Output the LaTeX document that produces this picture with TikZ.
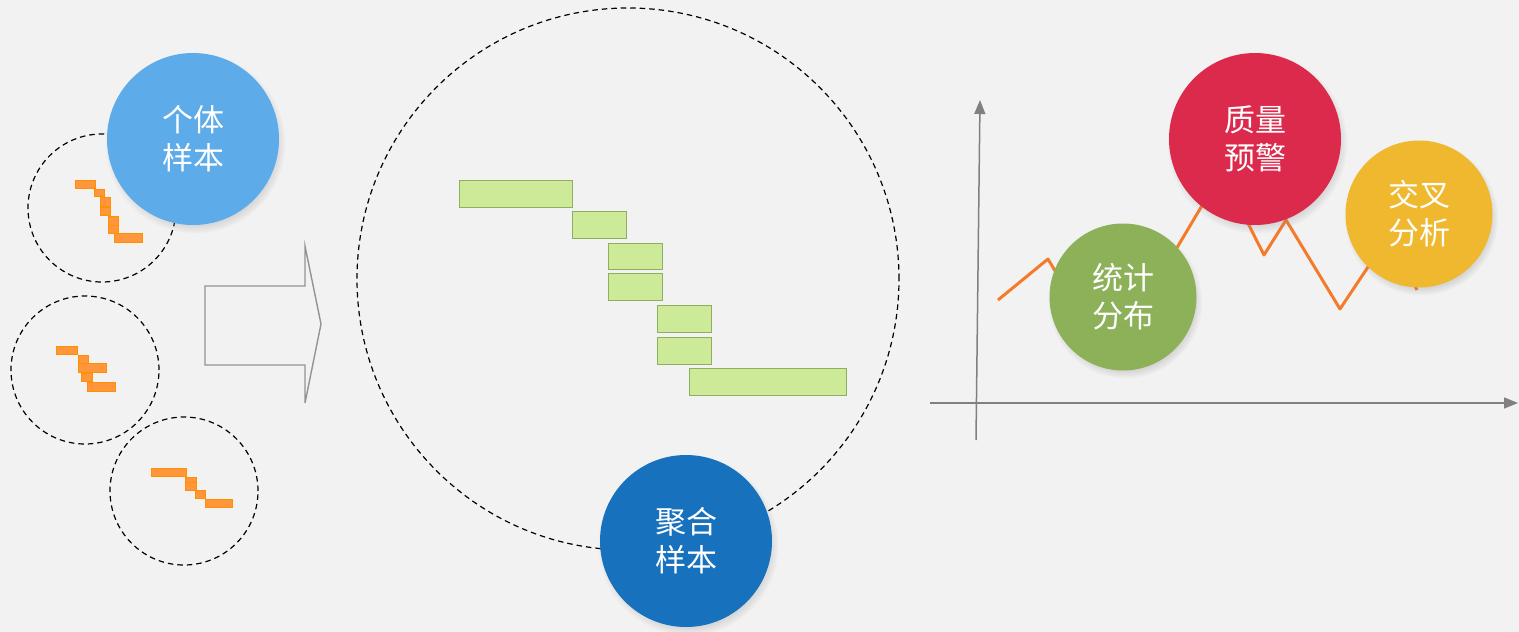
\documentclass[tikz,border=0pt]{standalone}
\usepackage{fontspec}
\newfontfamily\cjk{Noto Sans CJK SC}
\usepackage{tikz}
\usetikzlibrary{arrows.meta,shadows,fadings}

\definecolor{bgGray}{HTML}{F2F2F2}
\definecolor{lightBlue}{HTML}{5DABE9}
\definecolor{darkBlue}{HTML}{1771BD}
\definecolor{statGreen}{HTML}{8CB159}
\definecolor{warnRed}{HTML}{DC2A4C}
\definecolor{crossYellow}{HTML}{EFB82F}
\definecolor{lineOrange}{HTML}{F47B2C}
\definecolor{barOrange}{HTML}{FF963C}
\definecolor{barOrangeLine}{HTML}{FF9000}
\definecolor{barGreen}{HTML}{CCEA97}
\definecolor{barGreenLine}{HTML}{8FAE62}
\definecolor{axisGray}{HTML}{808080}

\begin{document}
\begin{tikzpicture}[x=1pt, y=-1pt,
  dash node/.style={draw, circle, dash pattern=on 5.5pt off 4pt, line width=1.2pt, inner sep=0},
  main node/.style={circle, inner sep=0, text=white, align=center,
    font=\cjk\fontsize{31}{38}\selectfont, execute at begin node={\rule{0pt}{33pt}},
    circular drop shadow={shadow scale=1.05, shadow xshift=2pt, shadow yshift=-4pt, opacity=0.35}},
  obar/.style={draw=barOrangeLine, fill=barOrange, line width=1.4pt, anchor=north west, inner sep=0},
  gbar/.style={draw=barGreenLine, fill=barGreen, line width=1.2pt, anchor=north west, inner sep=0},
  axis/.style={draw=axisGray, line width=1.5pt, -{Triangle[length=14pt,width=11pt]}}]

  \fill[bgGray] (0,0) rectangle (1519,632);
  \useasboundingbox (0,0) rectangle (1519,632);

  % small samples
  \node (c1) [dash node, minimum size=148pt] at (102,208) {};
  \node (c2) [dash node, minimum size=148pt] at (85,370) {};
  \node (c3) [dash node, minimum size=148pt] at (184,491) {};

  \node (o11) [obar, minimum width=20pt, minimum height=8pt] at (75,180) {};
  \node (o12) [obar, minimum width=10pt, minimum height=7pt] at (94,189) {};
  \node (o13) [obar, minimum width=10pt, minimum height=9pt] at (100,197) {};
  \node (o14) [obar, minimum width=10pt, minimum height=8pt] at (100,207) {};
  \node (o15) [obar, minimum width=10pt, minimum height=9pt] at (108,216) {};
  \node (o16) [obar, minimum width=10pt, minimum height=8pt] at (108,225) {};
  \node (o17) [obar, minimum width=28pt, minimum height=9pt] at (114,233) {};

  \node (o21) [obar, minimum width=21pt, minimum height=8pt] at (56,346) {};
  \node (o22) [obar, minimum width=10pt, minimum height=8pt] at (78,355) {};
  \node (o23) [obar, minimum width=28pt, minimum height=9pt] at (78,363) {};
  \node (o24) [obar, minimum width=11pt, minimum height=8pt] at (81,373) {};
  \node (o25) [obar, minimum width=28pt, minimum height=9pt] at (87,382) {};

  \node (o31) [obar, minimum width=35pt, minimum height=8pt] at (151,468) {};
  \node (o32) [obar, minimum width=11pt, minimum height=5pt] at (185,477) {};
  \node (o33) [obar, minimum width=11pt, minimum height=8pt] at (185,482) {};
  \node (o34) [obar, minimum width=10pt, minimum height=8pt] at (195,490) {};
  \node (o35) [obar, minimum width=27pt, minimum height=8pt] at (205,499) {};

  \node (single) [main node, fill=lightBlue, minimum size=172pt] at (193,139) {个体\\样本};

  % arrow
  \draw[draw=axisGray!85, line width=1.4pt] (205,286) -- (305,286) -- (305,246) -- (321,324)
    -- (305,403) -- (305,365) -- (205,365) -- cycle;

  % aggregated sample
  \node (big) [dash node, minimum size=542pt] at (628,279) {};

  \node (g1) [gbar, minimum width=113pt, minimum height=27pt] at (459,180) {};
  \node (g2) [gbar, minimum width=54pt, minimum height=27pt] at (572,211) {};
  \node (g3) [gbar, minimum width=54pt, minimum height=26pt] at (608,243) {};
  \node (g4) [gbar, minimum width=54pt, minimum height=27pt] at (608,273) {};
  \node (g5) [gbar, minimum width=54pt, minimum height=27pt] at (657,305) {};
  \node (g6) [gbar, minimum width=54pt, minimum height=27pt] at (657,337) {};
  \node (g7) [gbar, minimum width=157pt, minimum height=27pt] at (689,368) {};

  \node (agg) [main node, fill=darkBlue, minimum size=172pt] at (686,541) {聚合\\样本};

  % chart
  \coordinate (yb) at (976,440);
  \coordinate (yt) at (980,100);
  \coordinate (xl) at (930,403);
  \coordinate (xr) at (1518,403);
  \draw[axis] (yb) -- (yt);
  \draw[axis] (xl) -- (xr);

  \draw[lineOrange, line width=3pt, line join=round] (998,300) -- (1048,259) -- (1109,362)
    -- (1222,172) -- (1264,255) -- (1286,220) -- (1340,309) -- (1390,234) -- (1417,290);

  \node (stat) [main node, fill=statGreen, minimum size=147pt] at (1123,297) {统计\\分布};
  \node (warn) [main node, fill=warnRed, minimum size=172pt] at (1255,139) {质量\\预警};
  \node (cross) [main node, fill=crossYellow, minimum size=147pt] at (1419,214) {交叉\\分析};
\end{tikzpicture}
\end{document}
